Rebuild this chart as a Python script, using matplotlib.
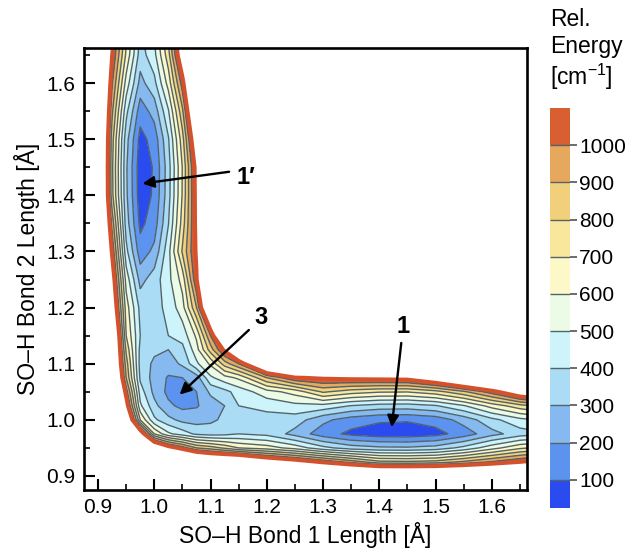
import numpy as np
import matplotlib
matplotlib.use("Agg")
import matplotlib.pyplot as plt
from matplotlib.ticker import MultipleLocator

plt.rcParams['font.family'] = ['Liberation Sans', 'DejaVu Sans']
plt.rcParams['mathtext.fontset'] = 'custom'
plt.rcParams['mathtext.rm'] = 'Liberation Sans'
plt.rcParams['mathtext.it'] = 'Liberation Sans:italic'

# -- DATA -------------------------------------------------------------------------
# grid of bond lengths [A] (same for bond 1 and bond 2)
bond_grid = [0.875, 0.9, 0.925, 0.95, 0.975, 1.0, 1.025, 1.05, 1.075, 1.1, 1.125,
             1.15, 1.2, 1.25, 1.3, 1.35, 1.4, 1.45, 1.5, 1.55, 1.6, 1.65, 1.7]

# relative energy [cm-1], rows = bond 2, columns = bond 1
energy = [
    [3000, 3000, 3000, 3000, 3000, 2900, 2800, 2700, 2600, 2600, 2600, 2600, 2600, 2600, 2600, 2600, 2600, 2600, 2600, 2600, 2600, 2600, 2700],
    [3000, 2900, 2800, 2700, 2500, 2400, 2300, 2200, 2100, 2000, 2000, 2000, 1800, 1800, 1700, 1700, 1700, 1700, 1700, 1700, 1700, 1800, 1900],
    [3000, 2800, 2600, 2400, 2000, 1900, 1800, 1700, 1600, 1500, 1500, 1500, 1300, 1200, 1080, 960, 830, 820, 840, 920, 1010, 1100, 1180],
    [3000, 2700, 2400, 2200, 1600, 1400, 1180, 1050, 900, 850, 780, 700, 650, 560, 430, 350, 320, 315, 340, 430, 560, 680, 740],
    [3000, 2500, 2000, 1600, 1250, 700, 520, 450, 380, 360, 370, 400, 370, 265, 145, 75, 45, 40, 65, 145, 265, 350, 390],
    [2900, 2400, 1900, 1400, 700, 420, 330, 270, 260, 280, 320, 350, 360, 350, 225, 150, 115, 110, 140, 240, 370, 470, 520],
    [2800, 2300, 1800, 1180, 520, 330, 220, 175, 190, 250, 300, 400, 430, 470, 465, 395, 360, 355, 390, 490, 640, 760, 850],
    [2700, 2200, 1700, 1050, 450, 270, 175, 150, 200, 320, 370, 440, 560, 640, 815, 745, 710, 705, 760, 880, 1050, 1270, 1400],
    [2600, 2100, 1600, 900, 380, 260, 190, 200, 250, 480, 560, 620, 900, 1090, 1120, 1140, 1150, 1160, 1290, 1490, 1680, 1900, 2000],
    [2600, 2000, 1500, 850, 360, 280, 250, 320, 480, 620, 850, 1000, 1500, 1700, 1800, 1800, 1800, 1800, 1900, 2000, 2200, 2400, 2500],
    [2600, 2000, 1500, 780, 370, 320, 300, 370, 560, 850, 1130, 1500, 2200, 2300, 2400, 2400, 2400, 2400, 2500, 2600, 2700, 2900, 3000],
    [2600, 2000, 1500, 700, 400, 350, 400, 440, 620, 1000, 1500, 2000, 2500, 3000, 3000, 3000, 3000, 3000, 3000, 3000, 3000, 3000, 3000],
    [2600, 1800, 1300, 650, 370, 360, 430, 560, 900, 1500, 2200, 2500, 3000, 3000, 3000, 3000, 3000, 3000, 3000, 3000, 3000, 3000, 3000],
    [2600, 1800, 1200, 560, 265, 350, 470, 640, 1090, 1700, 2300, 3000, 3000, 3000, 3000, 3000, 3000, 3000, 3000, 3000, 3000, 3000, 3000],
    [2600, 1700, 1080, 430, 145, 225, 465, 815, 1120, 1800, 2400, 3000, 3000, 3000, 3000, 3000, 3000, 3000, 3000, 3000, 3000, 3000, 3000],
    [2600, 1700, 960, 350, 75, 150, 395, 745, 1140, 1800, 2400, 3000, 3000, 3000, 3000, 3000, 3000, 3000, 3000, 3000, 3000, 3000, 3000],
    [2600, 1700, 830, 320, 45, 115, 360, 710, 1150, 1800, 2400, 3000, 3000, 3000, 3000, 3000, 3000, 3000, 3000, 3000, 3000, 3000, 3000],
    [2600, 1700, 820, 315, 40, 110, 355, 705, 1160, 1800, 2400, 3000, 3000, 3000, 3000, 3000, 3000, 3000, 3000, 3000, 3000, 3000, 3000],
    [2600, 1700, 840, 340, 65, 140, 390, 760, 1290, 1900, 2500, 3000, 3000, 3000, 3000, 3000, 3000, 3000, 3000, 3000, 3000, 3000, 3000],
    [2600, 1700, 920, 430, 145, 240, 490, 880, 1490, 2000, 2600, 3000, 3000, 3000, 3000, 3000, 3000, 3000, 3000, 3000, 3000, 3000, 3000],
    [2600, 1700, 1010, 560, 265, 370, 640, 1050, 1680, 2200, 2700, 3000, 3000, 3000, 3000, 3000, 3000, 3000, 3000, 3000, 3000, 3000, 3000],
    [2600, 1800, 1100, 680, 350, 470, 760, 1270, 1900, 2400, 2900, 3000, 3000, 3000, 3000, 3000, 3000, 3000, 3000, 3000, 3000, 3000, 3000],
    [2700, 1900, 1180, 740, 390, 520, 850, 1400, 2000, 2500, 3000, 3000, 3000, 3000, 3000, 3000, 3000, 3000, 3000, 3000, 3000, 3000, 3000],
]

levels = [24, 100, 200, 300, 400, 500, 600, 700, 800, 900, 1000, 1100]
band_colors = ['#2a4bf0', '#5c93ee', '#85b9f0', '#abdcf6', '#cdf3fb', '#ecfbe6',
               '#fdf8c8', '#f8e79c', '#f2cf7a', '#e6a85c', '#d75f30']
cbar_ticks = [100, 200, 300, 400, 500, 600, 700, 800, 900, 1000]
axis_ticks = [0.9, 1.0, 1.1, 1.2, 1.3, 1.4, 1.5, 1.6]

point_labels = ['1\u2032', '3', '1']
label_xy = [(1.162, 1.431), (1.19, 1.182), (1.443, 1.166)]
arrow_from = [(1.133, 1.442), (1.168, 1.160), (1.439, 1.137)]
arrow_to = [(0.979, 1.421), (1.045, 1.045), (1.422, 0.987)]

# -- FIGURE -----------------------------------------------------------------------
fig = plt.figure(figsize=(6.28, 5.51), dpi=100)
ax = fig.add_axes([84 / 628, 1 - 490 / 551, 443 / 628, 442 / 551])

x = np.array(bond_grid)
z = np.array(energy, dtype=float)
cf = ax.contourf(x, x, z, levels=levels, colors=band_colors)
cl = ax.contour(x, x, z, levels=levels[1:-1], colors='#53636a', linewidths=1.0)
ax.contour(x, x, z, levels=[levels[-1]], colors='#d4512b', linewidths=2.8)

ax.set_xlim(0.875, 1.6625)
ax.set_ylim(0.875, 1.6625)
ax.set_xticks(axis_ticks)
ax.set_yticks(axis_ticks)
ax.set_xticklabels([f'{t:.1f}' for t in axis_ticks])
ax.set_yticklabels([f'{t:.1f}' for t in axis_ticks])
ax.xaxis.set_minor_locator(MultipleLocator(0.05))
ax.yaxis.set_minor_locator(MultipleLocator(0.05))
ax.tick_params(which='major', direction='in', length=8, width=1.5, labelsize=15, pad=6)
ax.tick_params(which='minor', direction='in', length=4, width=1.2)
for s in ax.spines.values():
    s.set_linewidth(1.9)
ax.set_xlabel('SO\u2013H Bond 1 Length [\u00c5]', fontsize=16.5, labelpad=3)
ax.set_ylabel('SO\u2013H Bond 2 Length [\u00c5]', fontsize=16.5, labelpad=5)

# labels and arrows for the minima
for lab, txy, a0, a1 in zip(point_labels, label_xy, arrow_from, arrow_to):
    ax.annotate('', xy=a1, xytext=a0,
                arrowprops=dict(arrowstyle='-|>', color='black', lw=1.7,
                                mutation_scale=17, shrinkA=0, shrinkB=0))
    ax.text(txy[0], txy[1], lab, fontsize=17, fontweight='bold', ha='center', va='center')

# colorbar
cax = fig.add_axes([550 / 628, 1 - 508 / 551, 20 / 628, 400 / 551])
cb = fig.colorbar(cf, cax=cax, spacing='proportional', ticks=cbar_ticks)
cb.outline.set_visible(False)
cb.add_lines(cl)
cb.ax.tick_params(length=5, width=1.1, color='#444444', labelsize=15, pad=1.5)
fig.text(550 / 628, 1 - 8 / 551, 'Rel.\nEnergy\n[cm$^{\u22121}$]', fontsize=16.5,
         ha='left', va='top')

fig.savefig('out.png', dpi=100)
